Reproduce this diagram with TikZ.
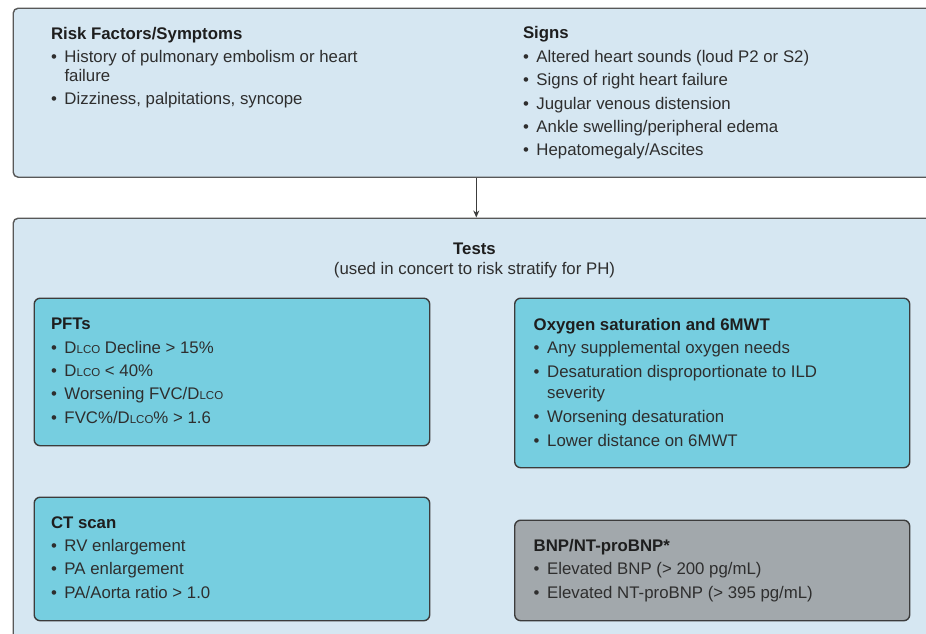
\documentclass[tikz,border=0pt]{standalone}
\usepackage{fontspec}
\setmainfont{Liberation Sans}
\usetikzlibrary{arrows.meta}
\definecolor{outerfill}{HTML}{D6E7F2}
\definecolor{innerfill}{HTML}{76CEE0}
\definecolor{grayfill}{HTML}{A2A8AC}
\definecolor{txt}{HTML}{2E2E2E}
\definecolor{headtxt}{HTML}{1E1E1E}
\definecolor{edge}{HTML}{585858}
\definecolor{inedge}{HTML}{3C3C3C}
\newcommand{\bul}{\makebox[13.5pt][l]{\textbullet}}
\newcommand{\ind}{\hspace*{13.5pt}}
\newcommand{\dlco}{D{\fontsize{11.5}{11.5}\selectfont LCO}}
\newcommand{\hd}[1]{{\color{headtxt}\bfseries #1}}
\begin{document}
\begin{tikzpicture}[x=1pt,y=-1pt,
  outerbox/.style={draw=edge, line width=1.4pt, fill=outerfill, rounded corners=5pt, anchor=north west, inner sep=0pt},
  testbox/.style={draw=inedge, line width=1.4pt, fill=innerfill, rounded corners=6pt, anchor=north west, inner sep=0pt},
  graybox/.style={testbox, fill=grayfill},
  txtnode/.style={anchor=base west, inner sep=0pt, align=left, text=txt, font=\fontsize{16.8}{18.4}\selectfont},
  arrowline/.style={draw=inedge, line width=1.2pt, -{Stealth[length=7pt,width=6pt]}}]
\useasboundingbox (0,0) rectangle (926,633);
\clip (0,0) rectangle (926,633);
% outer boxes
\node[outerbox, minimum width=940pt, minimum height=169pt] (top) at (12.5,7.5) {};
\node[outerbox, minimum width=940pt, minimum height=450pt] (tests) at (12.5,217.5) {};
% arrow
\coordinate (ax) at (476.3,0);
\draw[arrowline] (top.south -| ax) -- (tests.north -| ax);
% top texts (anchor = baseline of last line)
\node[txtnode] (risk) at (50.8,104.7) {\hd{Risk Factors/Symptoms}\\[5pt]
\bul History of pulmonary embolism or heart\\
\ind failure\\[5pt]
\bul Dizziness, palpitations, syncope};
\node[txtnode] (signs) at (522.8,155.8) {\hd{Signs}\\[5pt]
\bul Altered heart sounds (loud P2 or S2)\\[5pt]
\bul Signs of right heart failure\\[5pt]
\bul Jugular venous distension\\[5pt]
\bul Ankle swelling/peripheral edema\\[5pt]
\bul Hepatomegaly/Ascites};
% tests title
\node[txtnode, anchor=base, align=center] (teststitle) at (474.5,274.7) {\hd{Tests}\\[2pt]
(used in concert to risk stratify for PH)};
% inner boxes
\node[testbox, minimum width=395.5pt, minimum height=147.5pt] (pftbox) at (33.5,297.5) {};
\node[testbox, minimum width=395pt, minimum height=169.5pt] (oxybox) at (514,297.5) {};
\node[testbox, minimum width=395.5pt, minimum height=123.5pt] (ctbox) at (33.5,496.5) {};
\node[graybox, minimum width=395pt, minimum height=100.5pt] (bnpbox) at (514,519.5) {};
% inner texts
\node[txtnode] (pfts) at (50.8,423.2) {\hd{PFTs}\\[5pt]
\bul \dlco\ Decline > 15\%\\[5pt]
\bul \dlco\ < 40\%\\[5pt]
\bul Worsening FVC/\dlco\\[5pt]
\bul FVC\%/\dlco\% > 1.6};
\node[txtnode] (oxy) at (533.5,446) {\hd{Oxygen saturation and 6MWT}\\[5.5pt]
\bul Any supplemental oxygen needs\\[5.5pt]
\bul Desaturation disproportionate to ILD\\[2pt]
\ind severity\\[5.5pt]
\bul Worsening desaturation\\[5.5pt]
\bul Lower distance on 6MWT};
\node[txtnode] (ct) at (50.8,598.2) {\hd{CT scan}\\[5pt]
\bul RV enlargement\\[5pt]
\bul PA enlargement\\[5pt]
\bul PA/Aorta ratio > 1.0};
\node[txtnode] (bnp) at (533.5,598.2) {\hd{BNP/NT-proBNP*}\\[5pt]
\bul Elevated BNP (> 200 pg/mL)\\[5pt]
\bul Elevated NT-proBNP (> 395 pg/mL)};
\end{tikzpicture}
\end{document}
